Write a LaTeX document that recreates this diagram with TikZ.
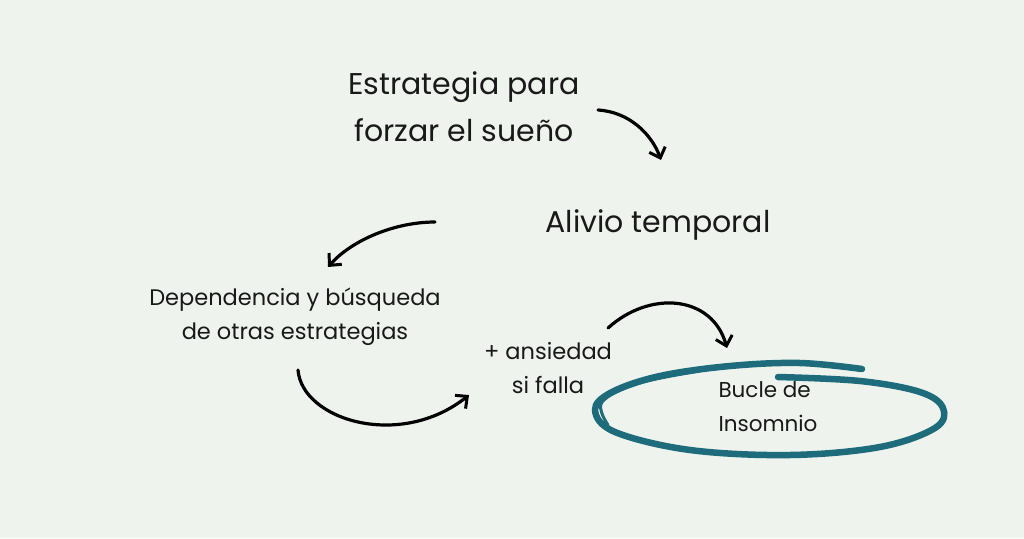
\documentclass[tikz,border=0pt]{standalone}
\usepackage{fontspec}
\setmainfont{Poppins}
\usetikzlibrary{arrows.meta}
\definecolor{bg}{HTML}{EEF3EE}
\definecolor{teal}{HTML}{1D6B7B}
\begin{document}
\begin{tikzpicture}[x=1pt,y=-1pt,
  big/.style={font=\fontsize{30}{47}\selectfont, align=center, text=black!90},
  small/.style={font=\fontsize{22.5}{34}\selectfont, align=center, text=black!90},
  arr/.style={line width=3.2pt, line cap=round, -{Straight Barb[length=9pt,width=17pt,line width=3pt]}}]
\fill[bg] (0,0) rectangle (1024,538);
\useasboundingbox (0,0) rectangle (1024,538);
\node[big] (a) at (464,107) {Estrategia para\\forzar el sueño};
\node[big] (b) at (658,225) {Alivio temporal};
\node[small] (c) at (295,317) {Dependencia y búsqueda\\de otras estrategias};
\node[small] (d) at (548,368) {+ ansiedad\\si falla};
\node[small, align=left, font=\fontsize{21.5}{34}\selectfont] (e) at (768,407) {Bucle de\\Insomnio};
\coordinate (a1) at (598,110); \coordinate (a2) at (661,160);
\coordinate (b1) at (435,222); \coordinate (b2) at (328,267);
\coordinate (c1) at (298,370); \coordinate (c2) at (469,395);
\coordinate (d1) at (608,328); \coordinate (d2) at (727,348);
\draw[arr] (a1) .. controls (630,112) and (652,135) .. (a2);
\draw[arr] (b1) .. controls (395,222) and (352,240) .. (b2);
\draw[arr] (c1) .. controls (302,420) and (400,450) .. (c2);
\draw[arr] (d1) .. controls (650,290) and (712,295) .. (d2);
\draw[teal, line width=6.5pt, line cap=round, line join=round]
  plot[smooth, tension=0.6] coordinates {(862,369) (800,363) (730,366) (660,376) (612,392) (595,410) (615,432) (690,450) (790,455) (880,447) (935,428) (943,408) (920,392) (860,381) (778,377)};
\draw[teal, line width=3pt, line cap=round]
  plot[smooth, tension=0.6] coordinates {(700,371) (640,383) (602,402) (608,425)};
\end{tikzpicture}
\end{document}
